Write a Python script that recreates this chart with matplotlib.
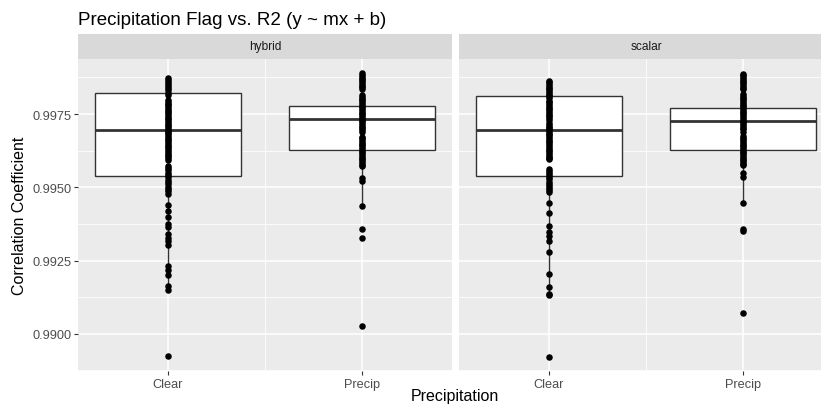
import matplotlib
matplotlib.use("Agg")
import matplotlib.pyplot as plt
import numpy as np

plt.rcParams['font.family'] = ['Liberation Sans', 'DejaVu Sans']

# ---------------- data ----------------
facets = ["hybrid", "scalar"]
categories = ["Clear", "Precip"]

hybrid_clear = [0.99873, 0.99866, 0.99859, 0.99852, 0.99845, 0.99838, 0.99831, 0.99823, 0.99815,
                0.99798, 0.99792, 0.99786, 0.9978, 0.99774, 0.99768, 0.99762, 0.99756, 0.9975, 0.99744,
                0.99738, 0.99732, 0.99726, 0.9972, 0.99714, 0.99708, 0.99702, 0.99696, 0.9969, 0.99684,
                0.99678, 0.99672, 0.99666, 0.9966, 0.99654, 0.99648, 0.99642, 0.99636, 0.9963, 0.99624,
                0.99618, 0.99612, 0.99606, 0.996, 0.99594,
                0.99574, 0.99566, 0.99558, 0.9955, 0.99542, 0.99534, 0.99526, 0.99518, 0.9951, 0.99502,
                0.99494, 0.99486, 0.99478,
                0.99438, 0.99418, 0.99398, 0.99374, 0.99366, 0.99340, 0.99326, 0.99316, 0.99302,
                0.99230, 0.99218, 0.99200, 0.99162, 0.99148, 0.98925]
hybrid_precip = [0.99889, 0.99883, 0.99877, 0.99871, 0.99865, 0.99859, 0.99853, 0.99847, 0.99841, 0.99834,
                 0.99815, 0.99809, 0.99803, 0.99797, 0.99791, 0.99785, 0.99779, 0.99773, 0.99767, 0.99761,
                 0.99755, 0.99749, 0.99743, 0.99737, 0.99731, 0.99725, 0.99719, 0.99713, 0.99707, 0.99701,
                 0.99695, 0.9969,
                 0.99673, 0.99667, 0.99661, 0.99655, 0.99649, 0.99643, 0.99637, 0.99631, 0.99625, 0.99619,
                 0.99613, 0.99607, 0.99601, 0.99595, 0.99589, 0.99583, 0.99577, 0.99572,
                 0.99532, 0.99522, 0.99437, 0.99358, 0.99326, 0.99027]
scalar_clear = [0.99864, 0.99858, 0.99852, 0.99846, 0.9984, 0.99834, 0.99828, 0.99822, 0.99816, 0.9981, 0.99804,
                0.99796, 0.9979, 0.99784, 0.99778, 0.99772, 0.99766, 0.9976, 0.99754, 0.99748, 0.99742,
                0.99736, 0.99731,
                0.99719, 0.99713, 0.99707, 0.99701, 0.99695, 0.99689, 0.99683, 0.99677, 0.99671, 0.99665,
                0.99659, 0.99653, 0.99647, 0.99641, 0.99635, 0.99629, 0.99623, 0.99617, 0.99611, 0.99605,
                0.99599, 0.99595,
                0.99564, 0.99557, 0.9955, 0.99543, 0.99536, 0.99529,
                0.99518, 0.99511, 0.99504, 0.99497, 0.9949, 0.99483,
                0.99448, 0.99414, 0.99369, 0.99347, 0.99335, 0.99318, 0.99279, 0.99205, 0.9916,
                0.99137, 0.99132, 0.9892]
scalar_precip = [0.99888, 0.99882, 0.99876, 0.9987, 0.99864, 0.99858, 0.99852, 0.99846, 0.9984, 0.99834,
                 0.99818, 0.99812, 0.99806, 0.998, 0.99794, 0.99788, 0.99782, 0.99776, 0.9977, 0.99764,
                 0.99758, 0.99752, 0.99746, 0.9974, 0.99734, 0.99728, 0.99722, 0.99716, 0.9971, 0.99704,
                 0.99698, 0.9969,
                 0.99676, 0.9967, 0.99664, 0.99658, 0.99652, 0.99646, 0.9964, 0.99634, 0.99628, 0.99622,
                 0.99616, 0.9961, 0.99604, 0.99598, 0.99592, 0.99586, 0.9958, 0.99575,
                 0.9955, 0.99535, 0.99446, 0.99358, 0.9935, 0.99072]

# box statistics per facet: [Clear, Precip]
box_q1 = {"hybrid": [0.99539, 0.99627], "scalar": [0.99539, 0.99629]}
box_med = {"hybrid": [0.99697, 0.99733], "scalar": [0.99697, 0.99728]}
box_q3 = {"hybrid": [0.99821, 0.99778], "scalar": [0.99812, 0.99770]}
whisk_lo = {"hybrid": [0.99148, 0.99437], "scalar": [0.99132, 0.99446]}
whisk_hi = {"hybrid": [0.99873, 0.99889], "scalar": [0.99864, 0.99888]}

points = {"hybrid": [hybrid_clear, hybrid_precip], "scalar": [scalar_clear, scalar_precip]}

y_ticks = [0.9900, 0.9925, 0.9950, 0.9975]
y_minor = [0.98875, 0.99125, 0.99375, 0.99625, 0.99875]

# ---------------- layout ----------------
W, H = 821, 414
fig = plt.figure(figsize=(W / 100, H / 100), dpi=100)
fig.patch.set_facecolor("white")

def fx(px):
    return px / W

def fy(py):
    return 1 - py / H

panel_top, panel_bot = 60, 372
strip_top = 35
panel_w = 374
lefts = [78, 459]
ylim = (0.98873, 0.99938)

for i, facet in enumerate(facets):
    ax = fig.add_axes([fx(lefts[i]), fy(panel_bot), panel_w / W, (panel_bot - panel_top) / H])
    ax.set_facecolor("#EBEBEB")
    for s in ax.spines.values():
        s.set_visible(False)
    ax.set_xlim(0.537, 2.463)
    ax.set_ylim(*ylim)
    # grid
    for yv in y_minor:
        ax.axhline(yv, color="white", lw=0.6, zorder=0.5)
    for yv in y_ticks:
        ax.axhline(yv, color="white", lw=1.1, zorder=0.6)
    ax.axvline(1.5, color="white", lw=0.6, zorder=0.5)
    for xv in (1, 2):
        ax.axvline(xv, color="white", lw=1.1, zorder=0.6)

    stats = []
    for j in range(2):
        stats.append(dict(med=box_med[facet][j], q1=box_q1[facet][j], q3=box_q3[facet][j],
                          whislo=whisk_lo[facet][j], whishi=whisk_hi[facet][j], fliers=[]))
    ax.bxp(stats, positions=[1, 2], widths=0.75, patch_artist=True, showcaps=False,
           showfliers=False,
           boxprops=dict(facecolor="white", edgecolor="#333333", linewidth=1.0),
           medianprops=dict(color="#333333", linewidth=2.0, solid_capstyle="butt"),
           whiskerprops=dict(color="#333333", linewidth=1.0),
           zorder=2, manage_ticks=False)
    for j in range(2):
        vals = points[facet][j]
        ax.scatter(np.full(len(vals), j + 1), vals, s=22, color="black", linewidths=0, zorder=3)

    ax.set_xticks([1, 2])
    ax.set_xticklabels(categories)
    ax.tick_params(axis="x", length=2.9, width=0.8, color="#333333", pad=2.2,
                   labelsize=9.2, labelcolor="#4D4D4D")
    ax.set_yticks(y_ticks)
    if i == 0:
        ax.set_yticklabels([f"{v:.4f}" for v in y_ticks])
        ax.tick_params(axis="y", length=2.9, width=0.8, color="#333333", pad=1.5,
                       labelsize=9.2, labelcolor="#4D4D4D")
    else:
        ax.tick_params(axis="y", length=0, labelleft=False)

    # strip
    sax = fig.add_axes([fx(lefts[i]), fy(panel_top), panel_w / W, (panel_top - strip_top) / H])
    sax.set_facecolor("#D9D9D9")
    sax.set_xticks([])
    sax.set_yticks([])
    for s in sax.spines.values():
        s.set_visible(False)
    sax.text(0.5, 0.5, facet, ha="center", va="center", fontsize=8.6, color="#1A1A1A",
             transform=sax.transAxes)

fig.text(fx(78), fy(25), "Precipitation Flag vs. R2 (y ~ mx + b)", ha="left", va="baseline",
         fontsize=13.5, color="black")
fig.text(fx(455), fy(397), "Precipitation", ha="center", va="center", fontsize=11.5, color="black")
fig.text(fx(19), fy(216), "Correlation Coefficient", ha="center", va="center", rotation=90,
         fontsize=11.5, color="black")

fig.savefig("out.png", dpi=100)
